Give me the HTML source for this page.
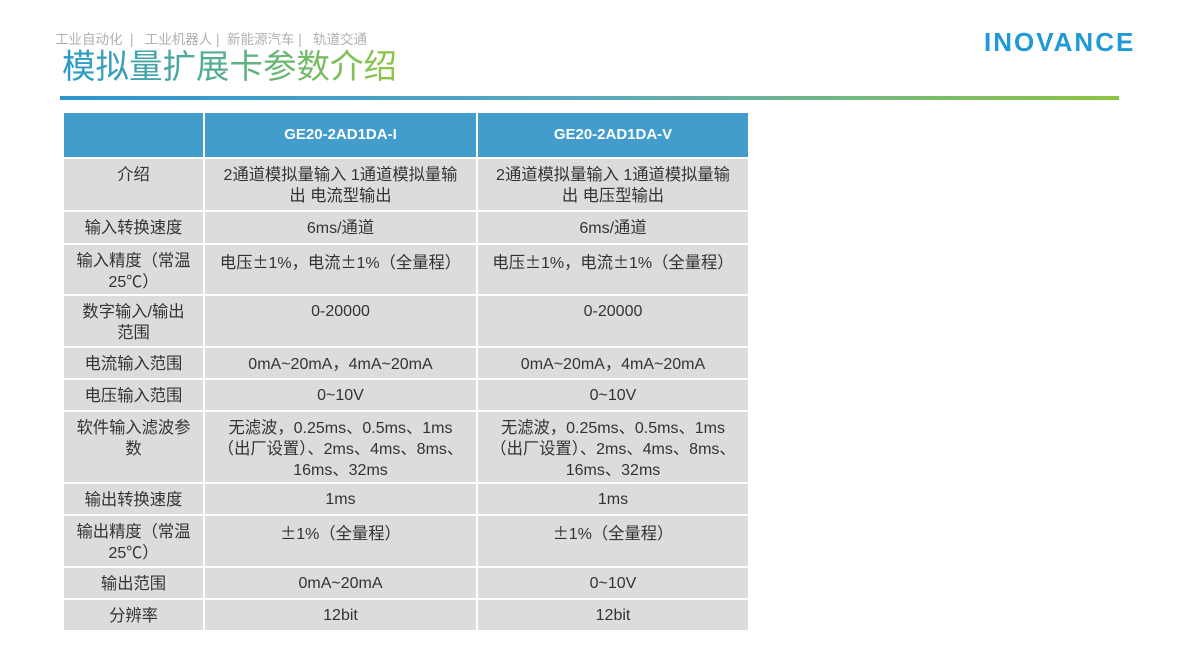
<!DOCTYPE html>
<html><head><meta charset="utf-8"><style>
body{margin:0;width:1189px;height:669px;background:#fff;position:relative;overflow:hidden;font-family:"Liberation Sans","Noto Sans CJK SC",sans-serif;}
.bc{position:absolute;left:55px;top:28px;font-size:13.5px;color:#b0b0b0;white-space:pre;}
.title{position:absolute;left:62px;top:47px;font-size:33.5px;line-height:42px;background:linear-gradient(90deg,#2a98cf,#8cc63f);-webkit-background-clip:text;background-clip:text;color:transparent;}
.logo{position:absolute;left:984px;top:27px;font-size:26px;font-weight:bold;color:#1e9ad6;letter-spacing:2px;}
.line{position:absolute;left:60px;top:96px;width:1059px;height:4px;background:linear-gradient(90deg,#2a96d0,#5aa9c0 50%,#8dc63f);}
.c{position:absolute;background:#dcdcdc;color:#333;font-size:16px;line-height:20px;text-align:center;box-sizing:border-box;padding:6px 0 0;white-space:nowrap;}
.c .k{font-size:16.3px;}
.h{background:#429dcd;color:#fff;font-weight:bold;padding-top:12px;font-size:15px;}
.pm{font-family:"Noto Sans CJK SC",sans-serif;font-size:16px;}
</style></head><body>
<div class="bc">工业自动化  |   工业机器人 |  新能源汽车 |   轨道交通</div>
<div class="title">模拟量扩展卡参数介绍</div>
<div class="logo">INOVANCE</div>
<div class="line"></div>
<div id="t"></div>
<script>
var pm='<span class="pm">±</span>';
var rows=[[113,44,"","GE20-2AD1DA-I","GE20-2AD1DA-V"],
[159,51,"介绍","2通道模拟量输入 1通道模拟量输<br>出 电流型输出","2通道模拟量输入 1通道模拟量输<br>出 电压型输出"],
[212,31,"输入转换速度","6ms/通道","6ms/通道"],
[245,49,"输入精度（常温<br>25℃）","电压"+pm+"1%，电流"+pm+"1%（全量程）","电压"+pm+"1%，电流"+pm+"1%（全量程）"],
[296,50,"数字输入/输出<br>范围","0-20000","0-20000"],
[348,30,"电流输入范围","0mA~20mA，4mA~20mA","0mA~20mA，4mA~20mA"],
[380,30,"电压输入范围","0~10V","0~10V"],
[412,70,"软件输入滤波参<br>数","无滤波，0.25ms、0.5ms、1ms<br>（出厂设置）、2ms、4ms、8ms、<br>16ms、32ms","无滤波，0.25ms、0.5ms、1ms<br>（出厂设置）、2ms、4ms、8ms、<br>16ms、32ms"],
[484,30,"输出转换速度","1ms","1ms"],
[516,50,"输出精度（常温<br>25℃）",pm+"1%（全量程）",pm+"1%（全量程）"],
[568,30,"输出范围","0mA~20mA","0~10V"],
[600,30,"分辨率","12bit","12bit"]];
function wrap(s){return s.replace(/([\u3000-\u9fff\uff00-\uffef]+)/g,'<span class="k">$1</span>');}
var cols=[[64,139],[205,271],[478,270]];var h="";
rows.forEach(function(r,i){for(var j=0;j<3;j++){var s=r[2+j];if(s.indexOf('class="pm"')<0)s=wrap(s);else s=s.split(pm).map(wrap).join(pm);h+='<div class="c'+(i==0?' h':'')+'" style="left:'+cols[j][0]+'px;top:'+r[0]+'px;width:'+cols[j][1]+'px;height:'+r[1]+'px">'+s+'</div>';}});
document.getElementById("t").innerHTML=h;
</script>
</body></html>
